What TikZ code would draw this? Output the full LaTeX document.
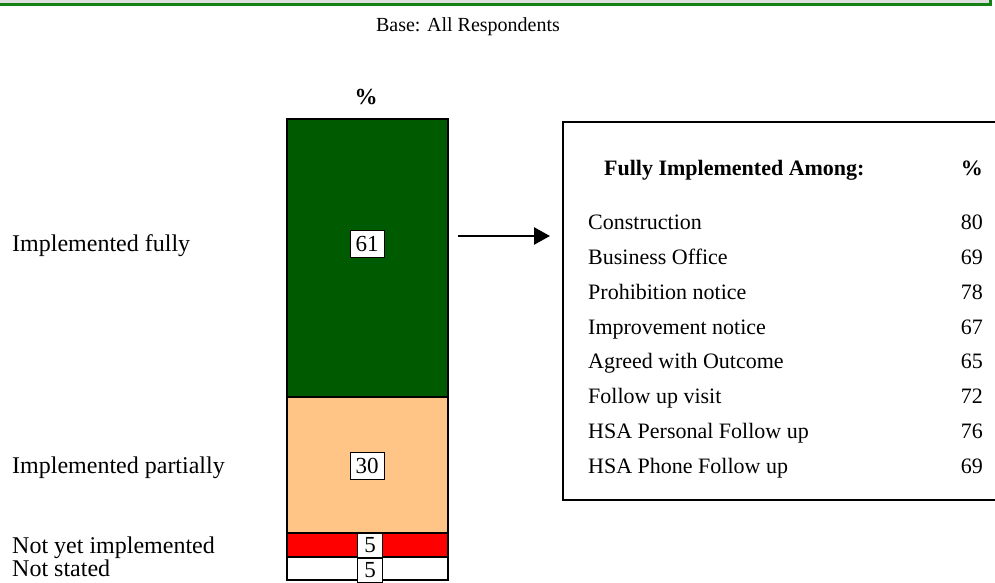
\documentclass[tikz,border=0pt]{standalone}
\usepackage{fontspec}
\setmainfont{Liberation Serif}
\usetikzlibrary{arrows.meta}
\definecolor{fullGreen}{RGB}{0,90,0}
\definecolor{partPeach}{RGB}{255,197,135}
\definecolor{frameGreen}{RGB}{20,130,20}
\begin{document}
\begin{tikzpicture}[x=1pt,y=-1pt,
  lab/.style={anchor=west,inner sep=0pt,text height=0.68em,text depth=0.22em,yshift=-5pt,font=\fontsize{24}{26}\selectfont},
  row/.style={anchor=west,inner sep=0pt,text height=0.68em,text depth=0.22em,yshift=-4pt,font=\fontsize{22}{24}\selectfont},
  val/.style={anchor=east,inner sep=0pt,text height=0.68em,text depth=0.22em,yshift=-4pt,font=\fontsize{22}{24}\selectfont},
  valbox/.style={draw,fill=white,line width=1pt,inner sep=0pt,font=\fontsize{23}{23}\selectfont}]
\useasboundingbox (0,0) rectangle (995,583);
\clip (0,0) rectangle (995,583);
%title box
\draw[frameGreen,line width=3pt,fill=gray!25](-10,-30) rectangle (990,5);
\node[font=\fontsize{20}{22}\selectfont] (base) at (468,27) {Base: All Respondents};
%bar
\node[font=\bfseries\fontsize{23}{24}\selectfont] (pc) at (366,97) {\%};
\draw[line width=2.5pt,fill=fullGreen](287,119) rectangle (448,397);
\draw[line width=2.5pt,fill=partPeach](287,397) rectangle (448,533);
\draw[line width=2.5pt,fill=red](287,533) rectangle (448,557);
\draw[line width=2.5pt,fill=white](287,557) rectangle (448,580);
\node[valbox,minimum width=34pt,minimum height=27pt] (v61) at (367,244) {61};
\node[valbox,minimum width=34pt,minimum height=27pt] (v30) at (367,466) {30};
\node[valbox,minimum width=25pt,minimum height=24pt] (v5a) at (370,545) {5};
\node[valbox,minimum width=25pt,minimum height=24pt] (v5b) at (370,570) {5};
%labels
\node[lab] (full) at (12,244) {Implemented fully};
\node[lab] (part) at (12,466) {Implemented partially};
\node[lab] (notyet) at (12,546) {Not yet implemented};
\node[lab] (notst) at (12,569) {Not stated};
%arrow
\coordinate (arrS) at (458,236);
\coordinate (arrE) at (550,236);
\draw[line width=2.5pt,-{Triangle[length=16pt,width=17pt]}](arrS)--(arrE);
%table
\draw[line width=2.5pt](1010,122)--(563,122)--(563,500)--(1010,500);
\node[row,font=\bfseries\fontsize{22}{24}\selectfont] (head) at (604,169) {Fully Implemented Among:};
\node[val,font=\bfseries\fontsize{22}{24}\selectfont] (headpc) at (983,169) {\%};
\foreach \i/\name/\num in {0/Construction/80,1/Business Office/69,2/Prohibition notice/78,
  3/Improvement notice/67,4/Agreed with Outcome/65,5/Follow up visit/72,
  6/HSA Personal Follow up/76,7/HSA Phone Follow up/69}{
  \node[row] (r\i) at (588,223+34.9*\i) {\name};
  \node[val] (n\i) at (983,223+34.9*\i) {\num};
}
\end{tikzpicture}
\end{document}
